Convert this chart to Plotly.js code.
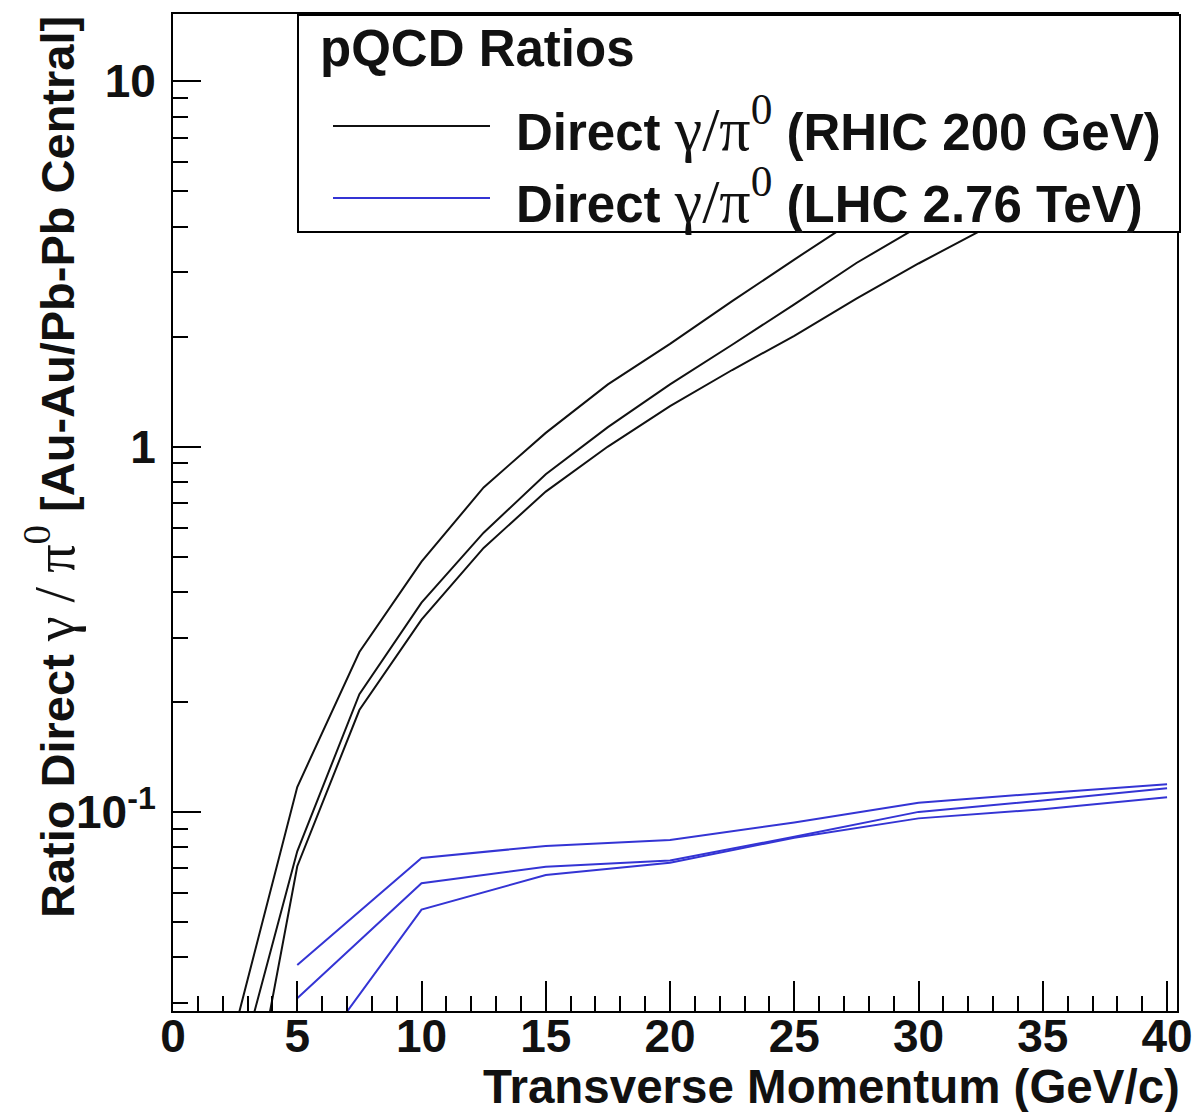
<!DOCTYPE html>
<html>
<head>
<meta charset="utf-8">
<script src="https://cdn.plot.ly/plotly-3.0.1.min.js"></script>
<style>html,body{margin:0;padding:0;background:#fff;}#chart{width:1197px;height:1112px;}</style>
</head>
<body>
<div id="chart"></div>
<script>
// ---- data ----
const ptRhic = [2.5, 5, 7.5, 10, 12.5, 15, 17.5, 20, 22.5, 25, 27.5, 30, 32.5, 35];
const rhicUpper   = [0.0256, 0.117, 0.274, 0.484, 0.773, 1.09, 1.48, 1.91, 2.50, 3.25, 4.2, 5.3, 6.5, 7.9];
const rhicCentral = [0.018, 0.078, 0.210, 0.374, 0.581, 0.84, 1.13, 1.48, 1.90, 2.45, 3.18, 4.0, 5.0, 6.1];
const rhicLower   = [0.0088, 0.071, 0.190, 0.336, 0.528, 0.753, 1.00, 1.29, 1.62, 2.01, 2.54, 3.17, 3.9, 4.8];

const ptLhc = [5, 10, 15, 20, 25, 30, 35, 40];
const lhcUpper   = [0.0381, 0.0748, 0.0807, 0.0838, 0.0935, 0.106, 0.1125, 0.119];
const lhcCentral = [0.0309, 0.0638, 0.0708, 0.0736, 0.0855, 0.100, 0.1074, 0.116];
const lhcLower   = [0.0185, 0.0540, 0.0672, 0.0726, 0.0850, 0.096, 0.1017, 0.1096];

const yTickVals = [0.1, 1, 10];
const yTickText = ['10<sup>-1</sup>', '1', '10'];
const yMinorVals = [0.03,0.04,0.05,0.06,0.07,0.08,0.09,0.2,0.3,0.4,0.5,0.6,0.7,0.8,0.9,2,3,4,5,6,7,8,9];

const legendTitle = 'pQCD Ratios';
const greekLeg = '<span style="font-family:\'Liberation Serif\',serif;font-weight:normal;font-size:62px">γ/π<sup>0</sup></span>';
const rhicName = 'Direct ' + greekLeg + ' (RHIC 200 GeV)';
const lhcName = 'Direct ' + greekLeg + ' (LHC 2.76 TeV)';
const xTitle = 'Transverse Momentum (GeV/c)';
const yTitle = 'Ratio Direct <span style="font-family:\'Liberation Serif\',serif;font-weight:normal;font-size:56px">γ / π<sup>0</sup></span> [Au-Au/Pb-Pb Central]';

// ---- styles ----
const BLACK = '#111111';
const BLUE = '#3434d4';
const FONT = 'Liberation Sans, Arial, Helvetica, sans-serif';

function tr(x, y, color, name) {
  return {x: x, y: y, type: 'scatter', mode: 'lines', name: name, showlegend: false,
          line: {color: color, width: 2}, hoverinfo: 'skip'};
}

const data = [
  tr(ptRhic, rhicUpper, BLACK, 'RHIC upper'),
  tr(ptRhic, rhicCentral, BLACK, 'RHIC central'),
  tr(ptRhic, rhicLower, BLACK, 'RHIC lower'),
  tr(ptLhc, lhcUpper, BLUE, 'LHC upper'),
  tr(ptLhc, lhcCentral, BLUE, 'LHC central'),
  tr(ptLhc, lhcLower, BLUE, 'LHC lower')
];

const L = 173, R = 20, T = 14, B = 101;
const W = 1197, H = 1112;
const pw = W - L - R, ph = H - T - B;
const px = v => (v - L) / pw;          // pixel -> paper x
const py = v => (H - B - v) / ph;      // pixel -> paper y

const tickFont = {family: FONT, size: 46, color: '#111', weight: 700};
const legFont = {family: FONT, size: 51, color: '#111', weight: 700};
const titleFont = {family: FONT, size: 47.5, color: '#111', weight: 700};
const yTitleFont = {family: FONT, size: 47, color: '#111', weight: 700};

const layout = {
  width: W, height: H,
  margin: {l: L, r: R, t: T, b: B, pad: 0},
  paper_bgcolor: '#fff', plot_bgcolor: '#fff',
  showlegend: false,
  xaxis: {
    range: [0, 40.4], showgrid: false, zeroline: false,
    showline: true, linecolor: '#000', linewidth: 2, mirror: true,
    ticks: 'inside', ticklen: 30, tickwidth: 2, tickcolor: '#000',
    tickmode: 'linear', tick0: 0, dtick: 5,
    minor: {ticks: 'inside', ticklen: 15, tickwidth: 2, tickcolor: '#000', dtick: 1, tick0: 0, showgrid: false},
    tickfont: tickFont, ticklabelstandoff: -16
  },
  yaxis: {
    type: 'log', range: [-1.545, 1.184], showgrid: false, zeroline: false,
    showline: true, linecolor: '#000', linewidth: 2, mirror: true,
    ticks: 'inside', ticklen: 28, tickwidth: 2, tickcolor: '#000',
    tickmode: 'array', tickvals: yTickVals, ticktext: yTickText,
    minor: {ticks: 'inside', ticklen: 15, tickwidth: 2, tickcolor: '#000', tickmode: 'array', tickvals: yMinorVals, showgrid: false},
    tickfont: tickFont, ticklabelstandoff: 6
  },
  shapes: [
    {type: 'rect', xref: 'paper', yref: 'paper', layer: 'above',
     x0: px(298), x1: px(1180), y0: py(232), y1: py(15),
     fillcolor: '#fff', line: {color: '#000', width: 2}},
    {type: 'line', xref: 'paper', yref: 'paper', layer: 'above',
     x0: px(333), x1: px(490), y0: py(126), y1: py(126), line: {color: BLACK, width: 2}},
    {type: 'line', xref: 'paper', yref: 'paper', layer: 'above',
     x0: px(333), x1: px(490), y0: py(198), y1: py(198), line: {color: BLUE, width: 2}}
  ],
  annotations: [
    {xref: 'paper', yref: 'paper', x: px(318), y: py(48), xanchor: 'left', yanchor: 'middle',
     text: legendTitle, showarrow: false, font: legFont},
    {xref: 'paper', yref: 'paper', x: px(514), y: py(124), xanchor: 'left', yanchor: 'middle',
     text: rhicName, showarrow: false, font: legFont},
    {xref: 'paper', yref: 'paper', x: px(514), y: py(196), xanchor: 'left', yanchor: 'middle',
     text: lhcName, showarrow: false, font: legFont},
    {xref: 'paper', yref: 'paper', x: px(1182), y: py(1086), xanchor: 'right', yanchor: 'middle',
     text: xTitle, showarrow: false, font: titleFont},
    {xref: 'paper', yref: 'paper', x: px(50), y: py(14), xanchor: 'center', yanchor: 'top',
     text: yTitle, textangle: -90, showarrow: false, font: yTitleFont}
  ]
};

Plotly.newPlot('chart', data, layout, {staticPlot: true, displayModeBar: false});
</script>
</body>
</html>
